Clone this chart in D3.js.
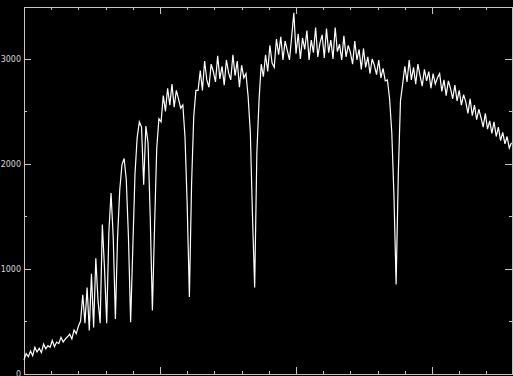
<!DOCTYPE html>
<html>
<head>
<meta charset="utf-8">
<script src="https://cdn.jsdelivr.net/npm/d3@7"></script>
<style>
  html, body { margin: 0; padding: 0; background: #000; }
  svg { display: block; }
  .axis path, .axis line { stroke: #c4c4c4; shape-rendering: crispEdges; }
  .axis text { fill: #d8d8d8; font-family: "DejaVu Sans", sans-serif; font-size: 8px; }
</style>
</head>
<body>
<svg id="chart" width="513" height="376"></svg>
<script>
// spectrum, one reading every 8 channels
const channelStep = 8
const counts = [
  130,190,160,215,170,250,205,240,200,280,235,265,250,315,255,300,285,345,300,330,350,375,330,415,380,450,500,
  750,480,820,410,950,440,1100,700,480,1420,1000,480,1350,1720,1300,520,1300,1750,1990,2050,1850,1300,490,
  1200,1900,2250,2400,2350,1800,2360,2200,1500,600,1400,
  2150,2430,2400,2650,2500,2720,2560,2760,2540,2700,2620,2530,2560,2250,1600,730,1800,
  2450,2700,2700,2890,2700,2980,2800,2730,2950,2880,2780,3030,2810,2930,2750,2990,2870,2800,3040,2840,
  2980,2730,2940,2820,2860,2640,2300,1500,820,
  2100,2600,2950,2830,3040,2880,3130,2960,2920,3190,3040,3210,2990,3170,3080,2990,3210,3440,3050,3240,
  3000,3200,3090,3270,2990,3180,3060,3300,3020,3150,3230,3010,3290,3060,3180,3000,3300,3070,3140,2990,
  3220,3020,3130,3060,2950,3170,2990,3090,2900,3100,2920,3020,2860,3000,2940,2850,2990,2820,2910,2790,
  2800,2620,2300,1700,850,
  1900,2600,2760,2930,2780,2990,2800,2920,2760,2950,2840,2740,2900,2790,2880,2720,2860,2760,2820,
  2860,2690,2800,2650,2790,2720,2620,2750,2600,2700,2560,2660,2590,2480,2620,2460,2560,2420,2520,2440,
  2350,2480,2330,2410,2290,2400,2260,2350,2220,2300,2190,2260,2150,2200
]
const yMajorTicks = [0, 1000, 2000, 3000]
const yMinorTicks = [500, 1500, 2500]
const xMajorTicks = [0, 500, 1000, 1500]
const xMinorTicks = d3.range(100, 1800, 100).filter(d => d % 500 !== 0)

const svg = d3.select('#chart')
const mLeft = 24, mRight = 512, mTop = 6.5, mBottom = 373.5

const x = d3.scaleLinear().domain([0, 1794]).range([mLeft, mRight])
const y = d3.scaleLinear().domain([0, 3500]).range([mBottom, mTop])

const data = counts.map((c, i) => ({ ch: i * channelStep, c: c }))

// axes: ticks point inwards, labels only on the left
svg.append('g').attr('class', 'axis')
    .attr('transform', 'translate(' + mLeft + ',0)')
    .call(d3.axisLeft(y).tickValues(yMajorTicks).tickSizeInner(-7).tickSizeOuter(0).tickPadding(3).tickFormat(d3.format('d')))
svg.append('g').attr('class', 'axis')
    .attr('transform', 'translate(' + mLeft + ',0)')
    .call(d3.axisLeft(y).tickValues(yMinorTicks).tickSizeInner(-3).tickSizeOuter(0).tickFormat(''))
svg.append('g').attr('class', 'axis')
    .attr('transform', 'translate(' + mRight + ',0)')
    .call(d3.axisRight(y).tickValues(yMajorTicks).tickSizeInner(-7).tickSizeOuter(0).tickFormat(''))
svg.append('g').attr('class', 'axis')
    .attr('transform', 'translate(' + mRight + ',0)')
    .call(d3.axisRight(y).tickValues(yMinorTicks).tickSizeInner(-3).tickSizeOuter(0).tickFormat(''))

svg.append('g').attr('class', 'axis')
    .attr('transform', 'translate(0,' + mBottom + ')')
    .call(d3.axisBottom(x).tickValues(xMajorTicks).tickSizeInner(-7).tickSizeOuter(0).tickFormat(''))
svg.append('g').attr('class', 'axis')
    .attr('transform', 'translate(0,' + mBottom + ')')
    .call(d3.axisBottom(x).tickValues(xMinorTicks).tickSizeInner(-3).tickSizeOuter(0).tickFormat(''))
svg.append('g').attr('class', 'axis')
    .attr('transform', 'translate(0,' + mTop + ')')
    .call(d3.axisTop(x).tickValues(xMajorTicks).tickSizeInner(-7).tickSizeOuter(0).tickFormat(''))
svg.append('g').attr('class', 'axis')
    .attr('transform', 'translate(0,' + mTop + ')')
    .call(d3.axisTop(x).tickValues(xMinorTicks).tickSizeInner(-3).tickSizeOuter(0).tickFormat(''))

const line = d3.line()
    .x(d => x(d.ch))
    .y(d => y(d.c))

svg.append('path')
    .datum(data)
    .attr('fill', 'none')
    .attr('stroke', '#fff')
    .attr('stroke-width', 1.2)
    .attr('d', line)
</script>
</body>
</html>
